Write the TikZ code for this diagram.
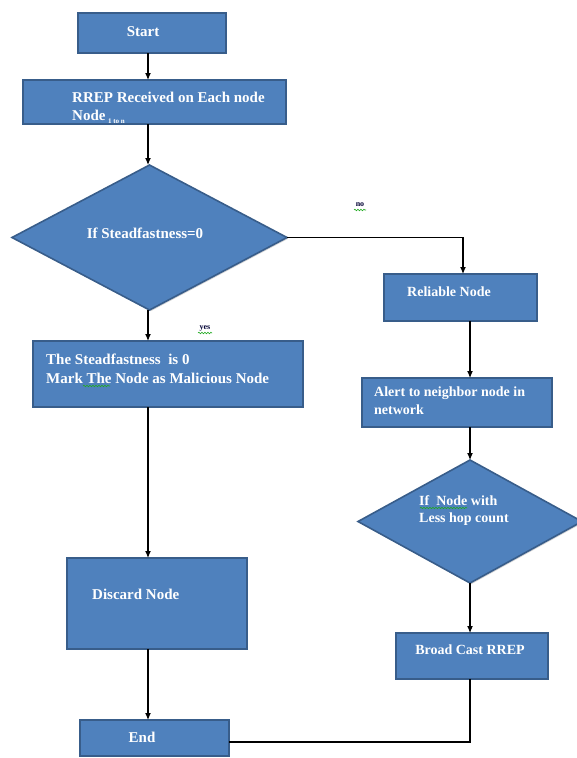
\documentclass[tikz,border=0pt]{standalone}
\usepackage{fontspec}
\setmainfont{Liberation Serif}
\usetikzlibrary{shapes.geometric,arrows.meta,shadows,decorations.pathmorphing}
\definecolor{boxfill}{HTML}{4F81BD}
\definecolor{boxline}{HTML}{385D8A}
\definecolor{squig}{HTML}{22AA22}
\tikzset{
  box/.style={draw=boxline, fill=boxfill, line width=1.6pt, inner sep=0pt, outer sep=0pt,
    drop shadow={shadow xshift=1.2pt, shadow yshift=-1.2pt, opacity=0.35}},
  dia/.style={box, diamond},
  txt/.style={text=white, inner sep=0pt, align=left, font=\fontsize{15}{18}\selectfont\bfseries},
  txtb/.style={text=white, inner sep=0pt, align=left, font=\fontsize{14}{17}\selectfont\bfseries},
  arr/.style={line width=1.1pt, -{Latex[length=7pt,width=6pt]}},
  conn/.style={line width=1.1pt},
  lab/.style={inner sep=0pt, text=black!80!blue, font=\fontsize{8}{9}\selectfont\bfseries},
  squiggle/.style={draw=squig, line width=0.6pt, decorate, decoration={snake, amplitude=0.8pt, segment length=3pt}}
}
\begin{document}
\begin{tikzpicture}[x=1pt,y=-1pt]
\useasboundingbox (0,0) rectangle (576,758);
% boxes
\node[box, minimum width=148pt, minimum height=40pt] (start) at (152,33) {};
\node[box, minimum width=263pt, minimum height=44pt] (rrep) at (154.5,102) {};
\node[dia, minimum width=275pt, minimum height=145pt] (d1) at (149.5,237.5) {};
\node[box, minimum width=270pt, minimum height=66pt] (mal) at (168,374) {};
\node[box, minimum width=180pt, minimum height=91pt] (disc) at (157,603.5) {};
\node[box, minimum width=149pt, minimum height=36pt] (end) at (154.5,738) {};
\node[box, minimum width=153pt, minimum height=47pt] (rel) at (460.5,297.5) {};
\node[box, minimum width=190pt, minimum height=49pt] (alert) at (457,402.5) {};
\node[dia, minimum width=224pt, minimum height=123pt] (d2) at (470,521.5) {};
\node[box, minimum width=152pt, minimum height=46pt] (bc) at (472,656) {};
% texts
\node[txt] (tstart) at (143,32) {Start};
\node[txt, anchor=west] (trrep1) at (72,97) {RREP Received on Each node};
\node[txt, anchor=west] (trrep2) at (72,117) {Node\,{\fontsize{7}{7}\selectfont\raisebox{-3pt}{1 to n}}};
\node[txt, anchor=center] (td1) at (145,233) {If Steadfastness=0};
\node[txt, anchor=west] (tmal1) at (46,359) {The Steadfastness\ \ is 0};
\node[txt, anchor=west] (tmal2) at (46,378) {Mark The Node as Malicious Node};
\node[txt, anchor=west] (tdisc) at (92,594) {Discard Node};
\node[txt] (tend) at (142,737) {End};
\node[txtb, anchor=west] (trel) at (407,292) {Reliable Node};
\node[txtb, anchor=west] (talert1) at (374,393) {Alert to neighbor node in};
\node[txtb, anchor=west] (talert2) at (374,410) {network};
\node[txtb, anchor=west] (td21) at (419,501) {If\ \ Node with};
\node[txtb, anchor=west] (td22) at (419,519) {Less hop count};
\node[txtb] (tbc) at (470,650) {Broad Cast RREP};
% labels
\node[lab] (yes) at (205,328) {yes};
\node[lab] (no) at (360,205) {no};
% squiggles
\draw[squiggle] (198,333) -- (212,333);
\draw[squiggle] (354,210) -- (366,210);
\draw[squiggle] (83,386) -- (110,386);
\draw[squiggle] (420,508) -- (467,508);
% connectors
\coordinate (ax) at (148,0);
\coordinate (bx) at (463,0);
\coordinate (cx) at (470,0);
\coordinate (ey) at (0,742);
\draw[arr] (start.south -| ax) -- (rrep.north -| ax);
\draw[arr] (rrep.south -| ax) -- (d1.north -| ax);
\draw[arr] (d1.south -| ax) -- (mal.north -| ax);
\draw[arr] (mal.south -| ax) -- (disc.north -| ax);
\draw[arr] (disc.south -| ax) -- (end.north -| ax);
\draw[arr] (d1.east) -| (rel.north -| bx);
\draw[arr] (rel.south -| cx) -- (alert.north -| cx);
\draw[arr] (alert.south -| cx) -- (d2.north);
\draw[arr] (d2.south) -- (bc.north -| cx);
\draw[conn] (bc.south -| cx) |- (end.east |- ey);
\end{tikzpicture}
\end{document}
